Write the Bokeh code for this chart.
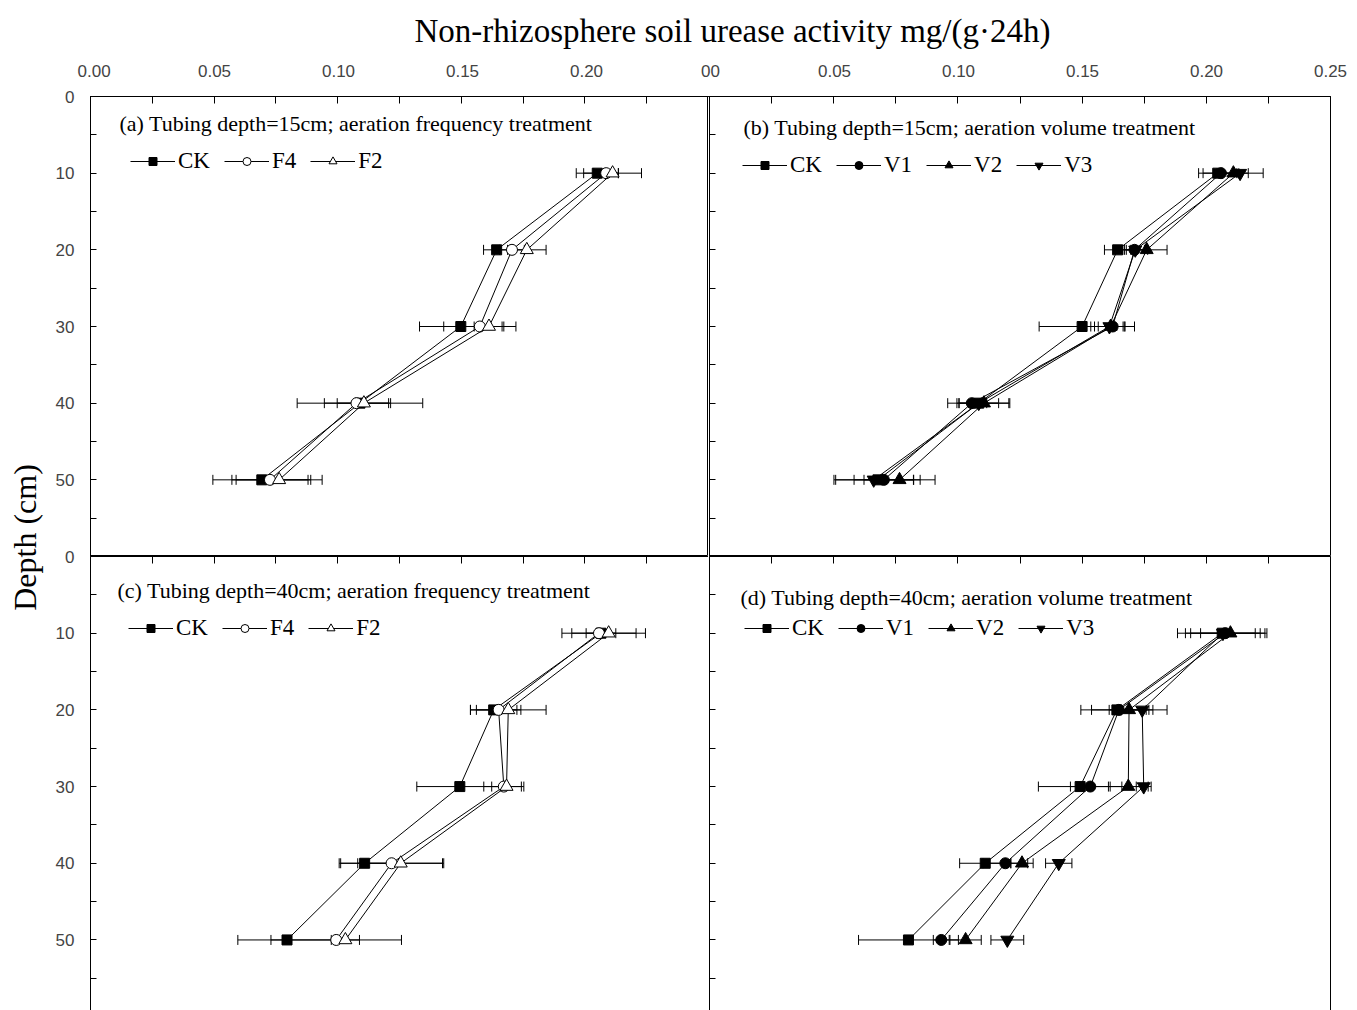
import numpy as np
from bokeh.plotting import figure
from bokeh.models import (Range1d, LinearAxis, FixedTicker, ColumnDataSource, Whisker,
                          TeeHead, Label, Legend, LegendItem, Title)
from bokeh.layouts import row, column
from bokeh.embed import file_html
from bokeh.resources import INLINE

# ---------------- data ----------------
depth = [10, 20, 30, 40, 50]

# (a) tubing 15 cm, aeration frequency
a_CK = [0.2050, 0.1643, 0.1498, 0.1090, 0.0693]
a_CK_sd = [0.0085, 0.0053, 0.0167, 0.0254, 0.0198]
a_F4 = [0.2086, 0.1705, 0.1575, 0.1076, 0.0726]
a_F4_sd = [0.0050, 0.0050, 0.0146, 0.0130, 0.0154]
a_F2 = [0.2112, 0.1765, 0.1612, 0.1106, 0.0763]
a_F2_sd = [0.0117, 0.0078, 0.0060, 0.0108, 0.0174]

# (b) tubing 15 cm, aeration volume
b_CK = [0.2046, 0.1643, 0.1500, 0.1084, 0.0678]
b_CK_sd = [0.0077, 0.0053, 0.0173, 0.0125, 0.0170]
b_V1 = [0.2059, 0.1711, 0.1623, 0.1056, 0.0702]
b_V1_sd = [0.0072, 0.0040, 0.0088, 0.0060, 0.0120]
b_V2 = [0.2109, 0.1760, 0.1615, 0.1105, 0.0765]
b_V2_sd = [0.0060, 0.0082, 0.0050, 0.0100, 0.0143]
b_V3 = [0.2136, 0.1714, 0.1610, 0.1084, 0.0661]
b_V3_sd = [0.0093, 0.0050, 0.0060, 0.0080, 0.0160]

# (c) tubing 40 cm, aeration frequency
c_CK = [0.2065, 0.1631, 0.1494, 0.1109, 0.0795]
c_CK_sd = [0.0060, 0.0094, 0.0174, 0.0103, 0.0199]
c_F4 = [0.2057, 0.1651, 0.1672, 0.1218, 0.0994]
c_F4_sd = [0.0150, 0.0090, 0.0081, 0.0206, 0.0264]
c_F2 = [0.2096, 0.1690, 0.1683, 0.1255, 0.1031]
c_F2_sd = [0.0149, 0.0153, 0.0060, 0.0174, 0.0057]

# (d) tubing 40 cm, aeration volume
d_CK = [0.2064, 0.1640, 0.1492, 0.1110, 0.0801]
d_CK_sd = [0.0180, 0.0145, 0.0168, 0.0103, 0.0201]
d_V1 = [0.2076, 0.1648, 0.1533, 0.1191, 0.0933]
d_V1_sd = [0.0160, 0.0110, 0.0080, 0.0090, 0.0032]
d_V2 = [0.2097, 0.1689, 0.1686, 0.1258, 0.1031]
d_V2_sd = [0.0120, 0.0080, 0.0080, 0.0045, 0.0063]
d_V3 = [0.2067, 0.1742, 0.1748, 0.1406, 0.1199]
d_V3_sd = [0.0130, 0.0100, 0.0030, 0.0053, 0.0066]

# ticks and labels
x_ticks = [0, 0.05, 0.1, 0.15, 0.2, 0.25]
x_minor = [0.025, 0.075, 0.125, 0.175, 0.225]
y_ticks = [0, 10, 20, 30, 40, 50, 60]
y_minor = [5, 15, 25, 35, 45, 55]
top_ticks = [0, 0.05, 0.1, 0.15, 0.2, 0.25, 0.3, 0.35, 0.4, 0.45, 0.5]
top_labels = ["0.00", "0.05", "0.10", "0.15", "0.20", "00", "0.05", "0.10", "0.15", "0.20", "0.25"]
left_ticks = [0, 10, 20, 30, 40, 50, 60, 70, 80, 90, 100, 110]
left_labels = ["0", "10", "20", "30", "40", "50", "0", "10", "20", "30", "40", "50"]

title_text = "Non-rhizosphere soil urease activity  mg/(g\u00b724h)"
ylabel_text = "Depth (cm)"
panel_titles = ["(a) Tubing depth=15cm; aeration frequency treatment",
                "(b) Tubing depth=15cm; aeration volume treatment",
                "(c) Tubing depth=40cm; aeration frequency treatment",
                "(d) Tubing depth=40cm; aeration volume treatment"]

SERIF = "Liberation Serif"
SANS = "Liberation Sans"

STYLE = {
    "CK": dict(marker="square", size=10, fill_color="black"),
    "F4": dict(marker="circle", size=11, fill_color="white"),
    "F2": dict(marker="triangle", size=13, fill_color="white"),
    "V1": dict(marker="circle", size=11, fill_color="black"),
    "V2": dict(marker="triangle", size=13, fill_color="black"),
    "V3": dict(marker="inverted_triangle", size=13, fill_color="black"),
}


def ticks_only_axis(ticker, tick_len=6):
    return LinearAxis(ticker=ticker, major_tick_in=tick_len, major_tick_out=0,
                      minor_tick_in=tick_len, minor_tick_out=0,
                      major_label_text_font_size="0px", major_label_text_color=None,
                      major_label_standoff=0,
                      axis_line_color="black", axis_line_width=1,
                      major_tick_line_color="black", minor_tick_line_color="black")


def make_panel(width, height, mbl, mbr, yend, outline, series, title, tpos, lpos):
    p = figure(width=width, height=height, x_range=Range1d(0, 0.25), y_range=Range1d(yend, 0),
               output_backend="svg", toolbar_location=None,
               x_axis_location=None, y_axis_location=None,
               min_border_left=mbl, min_border_right=mbr, min_border_top=0, min_border_bottom=0,
               outline_line_color="black" if outline else None)
    p.xgrid.visible = False
    p.ygrid.visible = False
    p.add_layout(ticks_only_axis(FixedTicker(ticks=x_ticks, minor_ticks=x_minor), 7), "above")
    p.add_layout(ticks_only_axis(FixedTicker(ticks=y_ticks, minor_ticks=y_minor), 6), "left")
    if not outline:
        ra = LinearAxis(ticker=FixedTicker(ticks=[]), major_tick_in=0, major_tick_out=0,
                        minor_tick_in=0, minor_tick_out=0, major_label_text_font_size="0px",
                        major_label_text_color=None,
                        major_label_standoff=0, axis_line_color="black")
        p.add_layout(ra, "right")
    items = []
    for name, vals, sd in series:
        vals = np.array(vals)
        sd = np.array(sd)
        src = ColumnDataSource(dict(depth=depth, x=vals, lower=vals - sd, upper=vals + sd))
        w = Whisker(base="depth", lower="lower", upper="upper", dimension="width", source=src,
                    line_color="black", line_width=1, level="underlay",
                    upper_head=TeeHead(size=10, line_color="black", line_width=1),
                    lower_head=TeeHead(size=10, line_color="black", line_width=1))
        p.add_layout(w)
        lr = p.line("x", "depth", source=src, line_color="black", line_width=1)
        st = STYLE[name]
        sr = p.scatter("x", "depth", source=src, marker=st["marker"], size=st["size"],
                       fill_color=st["fill_color"], line_color="black", line_width=1)
        items.append(LegendItem(label=name, renderers=[lr, sr]))
    leg = Legend(items=items, location=lpos, orientation="horizontal", glyph_width=45,
                 glyph_height=20, label_standoff=3, spacing=14, padding=0, margin=0,
                 border_line_color=None, background_fill_alpha=0,
                 label_text_font=SERIF, label_text_font_size="23px",
                 label_text_color="black")
    p.add_layout(leg)
    p.add_layout(Label(x=tpos[0], y=tpos[1], x_units="screen", y_units="screen", text=title,
                       text_font=SERIF, text_font_size="22px", text_align="left",
                       text_baseline="middle", text_color="black"))
    return p


tl = make_panel(631, 460, 13, 0, 60, True,
                [("CK", a_CK, a_CK_sd), ("F4", a_F4, a_F4_sd), ("F2", a_F2, a_F2_sd)],
                panel_titles[0], (29, 433), (40, 382))
tr = make_panel(649, 460, 1, 27, 60, True,
                [("CK", b_CK, b_CK_sd), ("V1", b_V1, b_V1_sd), ("V2", b_V2, b_V2_sd), ("V3", b_V3, b_V3_sd)],
                panel_titles[1], (34, 429), (33, 378))
bl = make_panel(631, 454, 13, 0, 59.2, False,
                [("CK", c_CK, c_CK_sd), ("F4", c_F4, c_F4_sd), ("F2", c_F2, c_F2_sd)],
                panel_titles[2], (27, 420), (38, 369))
br = make_panel(649, 454, 1, 27, 59.2, False,
                [("CK", d_CK, d_CK_sd), ("V1", d_V1, d_V1_sd), ("V2", d_V2, d_V2_sd), ("V3", d_V3, d_V3_sd)],
                panel_titles[3], (31, 413), (35, 369))

# top strip with tick labels and title
top = figure(width=1280, height=96, x_range=Range1d(0, 0.5), y_range=Range1d(0, 1),
             output_backend="svg", toolbar_location=None, x_axis_location=None, y_axis_location=None,
             min_border_left=13, min_border_right=27, min_border_top=95, min_border_bottom=0,
             outline_line_color=None)
top.xgrid.visible = False
top.ygrid.visible = False
tax = LinearAxis(ticker=FixedTicker(ticks=top_ticks),
                 major_label_overrides=dict(zip(top_ticks, top_labels)),
                 major_tick_in=0, major_tick_out=0, minor_tick_in=0, minor_tick_out=0,
                 major_label_standoff=20, major_label_text_font=SANS,
                 major_label_text_font_size="17px", axis_line_color="black")
top.add_layout(tax, "above")
top.add_layout(Title(text=title_text, align="left", offset=324, standoff=26,
                     text_font=SERIF, text_font_size="33px", text_font_style="normal",
                     text_color="black"), "above")

# left strip with depth tick labels and y title
left = figure(width=77, height=1010, x_range=Range1d(0, 1), y_range=Range1d(115.04, 0),
              output_backend="svg", toolbar_location=None, x_axis_location=None, y_axis_location=None,
              min_border_left=76, min_border_right=0, min_border_top=96, min_border_bottom=32,
              outline_line_color=None)
left.xgrid.visible = False
left.ygrid.visible = False
lax = LinearAxis(ticker=FixedTicker(ticks=left_ticks),
                 major_label_overrides=dict(zip(left_ticks, left_labels)),
                 major_tick_in=0, major_tick_out=0, minor_tick_in=0, minor_tick_out=0,
                 major_label_standoff=2, major_label_text_font=SANS,
                 major_label_text_font_size="17px", axis_line_color=None,
                 axis_label=ylabel_text, axis_label_standoff=10,
                 axis_label_text_font=SERIF, axis_label_text_font_size="32px",
                 axis_label_text_font_style="normal", axis_label_text_color="black")
left.add_layout(lax, "left")

layout = row(left, column(top, row(tl, tr), row(bl, br)))

open("out.html", "w").write(file_html(layout, INLINE))
